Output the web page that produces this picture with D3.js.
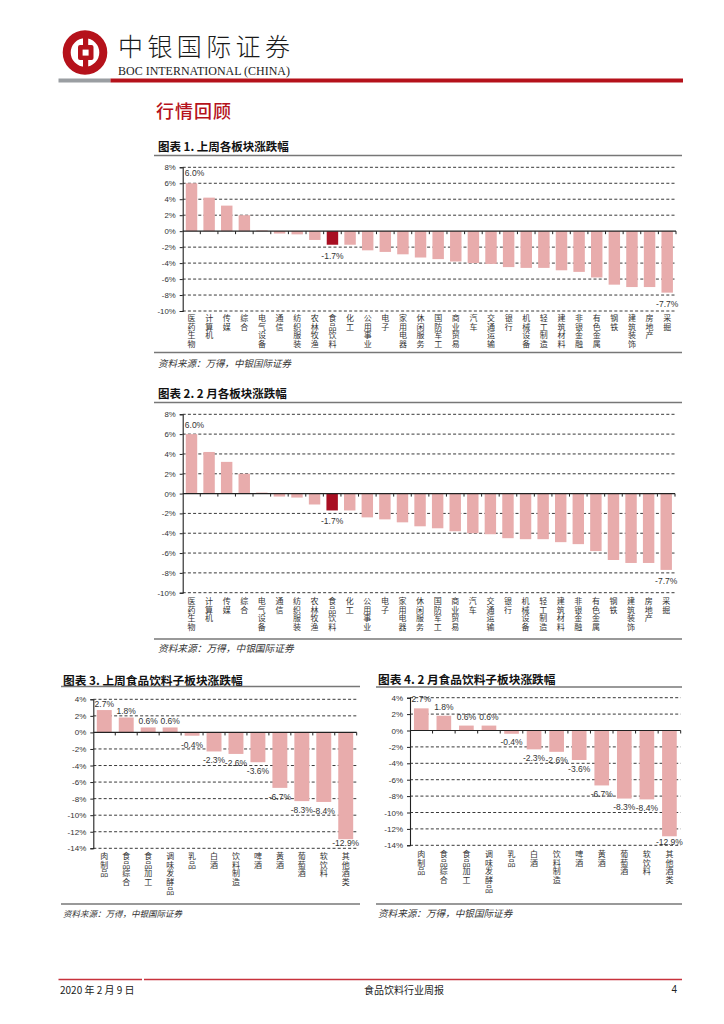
<!DOCTYPE html>
<html><head><meta charset="utf-8">
<script src="https://cdn.jsdelivr.net/npm/d3@7/dist/d3.min.js"></script>
<style>body{margin:0;background:#fff} svg{display:block}</style>
</head><body>
<svg id="page" width="724" height="1024"></svg>
<script>
// ---------- DATA ----------
const sectorCategories = ["医药生物","计算机","传媒","综合","电气设备","通信","纺织服装","农林牧渔","食品饮料","化工","公用事业","电子","家用电器","休闲服务","国防军工","商业贸易","汽车","交通运输","银行","机械设备","轻工制造","建筑材料","非银金融","有色金属","钢铁","建筑装饰","房地产","采掘"];
const weekSectorValues = [6.0,4.2,3.2,2.0,0.1,-0.3,-0.4,-1.1,-1.7,-1.7,-2.4,-2.6,-2.9,-3.3,-3.5,-3.8,-4.0,-4.1,-4.5,-4.6,-4.6,-4.9,-5.1,-5.8,-6.7,-7.0,-7.0,-7.7];
const febSectorValues  = [6.0,4.2,3.2,2.0,0.1,-0.3,-0.4,-1.1,-1.7,-1.7,-2.4,-2.6,-2.9,-3.3,-3.5,-3.8,-4.0,-4.1,-4.5,-4.6,-4.6,-4.9,-5.1,-5.8,-6.7,-7.0,-7.0,-7.7];
const sectorTicks = [8,6,4,2,0,-2,-4,-6,-8,-10];
const sectorLabelled = ["医药生物","食品饮料","采掘"];
const sectorHighlight = "食品饮料";

const foodCategories = ["肉制品","食品综合","食品加工","调味发酵品","乳品","白酒","饮料制造","啤酒","黄酒","葡萄酒","软饮料","其他酒类"];
const weekFoodValues = [2.7,1.8,0.6,0.6,-0.4,-2.3,-2.6,-3.6,-6.7,-8.3,-8.4,-12.9];
const febFoodValues  = [2.7,1.8,0.6,0.6,-0.4,-2.3,-2.6,-3.6,-6.7,-8.3,-8.4,-12.9];
const foodTicks = [4,2,0,-2,-4,-6,-8,-10,-12,-14];

const chartTitles = ["图表 1. 上周各板块涨跌幅","图表 2. 2 月各板块涨跌幅","图表 3. 上周食品饮料子板块涨跌幅","图表 4. 2 月食品饮料子板块涨跌幅"];
const sourceText = "资料来源：万得，中银国际证券";

// ---------- STYLE ----------
const RED = "#B5121B", PINK = "#E8ACAC", DARK = "#A80F22";
const CJK = "'Noto Sans CJK SC', sans-serif";
const NUM = "'Liberation Sans', Arial, sans-serif";
const NARROW = "'Liberation Sans Narrow', 'Arial Narrow', 'Liberation Sans', sans-serif";
const svg = d3.select("#page");

// ---------- HEADER ----------
const logo = svg.append("g");
logo.append("circle").attr("cx",85).attr("cy",52.5).attr("r",18.3).attr("fill","none").attr("stroke",RED).attr("stroke-width",8);
logo.append("rect").attr("x",83).attr("y",31).attr("width",5.2).attr("height",43).attr("fill",RED);
logo.append("rect").attr("x",78).attr("y",45).attr("width",15.5).attr("height",15).attr("rx",2).attr("fill",RED);
logo.append("rect").attr("x",82.6).attr("y",49.6).attr("width",6).attr("height",6).attr("fill","#fff");
svg.append("text").attr("x",118).attr("y",45).attr("dominant-baseline","central")
  .attr("font-family",CJK).attr("font-weight",300).attr("font-size",25).attr("fill","#1a1a1a")
  .attr("textLength",172).attr("lengthAdjust","spacing").text("中银国际证券");
svg.append("text").attr("x",118).attr("y",75).attr("font-family","'Liberation Serif', serif")
  .attr("font-size",11.5).attr("fill","#222").attr("textLength",172).attr("lengthAdjust","spacingAndGlyphs")
  .text("BOC INTERNATIONAL (CHINA)");
svg.append("rect").attr("x",58.5).attr("y",78.5).attr("width",52).attr("height",4).attr("fill","#9a9ea2");
svg.append("rect").attr("x",110.5).attr("y",78.5).attr("width",572.5).attr("height",4).attr("fill",RED);
svg.append("text").attr("x",156).attr("y",110).attr("dominant-baseline","central")
  .attr("font-family",CJK).attr("font-size",18).attr("font-weight",500).attr("fill",RED)
  .attr("letter-spacing",1).text("行情回顾");

// ---------- CHART FUNCTION ----------
function barChart(o){
  const g = svg.append("g");
  g.append("text").attr("x",o.tx).attr("y",o.ty).attr("dominant-baseline","central")
    .attr("font-family",CJK).attr("font-weight",700).attr("font-size",o.titleFs).attr("fill","#111").text(o.title);
  g.append("line").attr("x1",o.fx0).attr("x2",o.fx1).attr("y1",o.lineTop).attr("y2",o.lineTop).attr("stroke","#777").attr("stroke-width",1.3);
  g.append("line").attr("x1",o.fx0).attr("x2",o.fx1).attr("y1",o.lineBot).attr("y2",o.lineBot).attr("stroke","#777").attr("stroke-width",1.3);
  g.append("text").attr("x",o.tx).attr("y",o.srcY).attr("dominant-baseline","central")
    .attr("font-family",CJK).attr("font-style","italic").attr("font-size",o.srcFs).attr("fill","#333").text(sourceText);

  const x = d3.scaleBand().domain(o.cats).range([o.x0,o.x1]).paddingInner(o.pad).paddingOuter(o.pad/2);
  const y = d3.scaleLinear().domain([d3.min(o.ticks), d3.max(o.ticks)]).range([o.yBot,o.yTop]);

  g.selectAll("line.grid").data(o.ticks.filter(t=>t!==0)).join("line").attr("class","grid")
    .attr("x1",o.x0).attr("x2",o.x1).attr("y1",d=>y(d)).attr("y2",d=>y(d))
    .attr("stroke","#222").attr("stroke-width",0.9).attr("stroke-dasharray","3,2.2");

  g.selectAll("rect.bar").data(o.vals).join("rect").attr("class","bar")
    .attr("x",(d,i)=>x(o.cats[i])).attr("width",x.bandwidth())
    .attr("y",d=>y(Math.max(0,d))).attr("height",d=>Math.abs(y(d)-y(0)))
    .attr("fill",(d,i)=>o.cats[i]===o.hi?DARK:PINK);

  const ya = g.append("g").attr("transform",`translate(${o.x0},0)`)
    .call(d3.axisLeft(y).tickValues(o.ticks).tickFormat(d=>d+"%").tickSize(3).tickPadding(4));
  ya.select(".domain").attr("stroke","#222").attr("stroke-width",1.1);
  ya.selectAll(".tick line").attr("stroke","#222");
  ya.selectAll(".tick text").attr("font-family",NUM).attr("font-size",o.tickFs).attr("fill","#333");

  g.append("line").attr("x1",o.x0).attr("x2",o.x1).attr("y1",y(0)).attr("y2",y(0)).attr("stroke","#222").attr("stroke-width",1.1);
  g.selectAll("line.zt").data(d3.range(1,o.cats.length+1)).join("line").attr("class","zt")
    .attr("x1",i=>o.x0+i*x.step()).attr("x2",i=>o.x0+i*x.step())
    .attr("y1",y(0)).attr("y2",y(0)+3).attr("stroke","#222");

  const lab = o.vals.map((v,i)=>({v,c:o.cats[i]})).filter(d=>!o.labelled || o.labelled.includes(d.c));
  g.selectAll("text.val").data(lab).join("text").attr("class","val")
    .attr("x",d=>x(d.c)+x.bandwidth()/2 + (d.v>=0 ? o.dxUp : 0))
    .attr("y",d=>d.v>=0 ? y(d.v)-o.offUp : Math.min(y(d.v)+o.offDn, o.yBot-o.clamp))
    .attr("text-anchor","middle").attr("dominant-baseline","central")
    .attr("font-family",NARROW).attr("font-size",o.valFs).attr("fill","#333")
    .text(d=>d.v.toFixed(1)+"%");

  // vertical category labels: one character per line
  const cl = g.selectAll("text.cat").data(o.cats).join("text").attr("class","cat")
    .attr("font-family",CJK).attr("font-size",o.catFs).attr("fill","#333").attr("text-anchor","middle");
  cl.each(function(c){
    const t = d3.select(this);
    const cx = x(c)+x.bandwidth()/2;
    [...c].forEach((ch,k)=>{
      t.append("tspan").attr("x",cx).attr("y",o.catY + k*o.catStep).attr("dominant-baseline","hanging").text(ch);
    });
  });
}

barChart({title:chartTitles[0], titleFs:11.5, tx:158, ty:146, fx0:154, fx1:682, lineTop:155.5, lineBot:352.5, srcY:363, srcFs:9.5,
  cats:sectorCategories, vals:weekSectorValues, ticks:sectorTicks, hi:sectorHighlight, labelled:sectorLabelled,
  x0:182.7, x1:676, yTop:167.3, yBot:311, pad:0.35, tickFs:7.8, valFs:8.5, offUp:10, dxUp:3, offDn:11, clamp:4, catFs:8, catY:314, catStep:8.6});

barChart({title:chartTitles[1], titleFs:11.5, tx:158, ty:393, fx0:154, fx1:682, lineTop:402.5, lineBot:639, srcY:648, srcFs:9.7,
  cats:sectorCategories, vals:febSectorValues, ticks:sectorTicks, hi:sectorHighlight, labelled:sectorLabelled,
  x0:182.7, x1:675, yTop:414.3, yBot:592.7, pad:0.35, tickFs:7.8, valFs:8.5, offUp:9.5, dxUp:3, offDn:11, clamp:4, catFs:8, catY:597, catStep:8.6});

barChart({title:chartTitles[2], titleFs:11.7, tx:63, ty:679, fx0:61, fx1:360, lineTop:686.5, lineBot:904, srcY:913, srcFs:8.5,
  cats:foodCategories, vals:weekFoodValues, ticks:foodTicks, hi:null, labelled:null,
  x0:93.3, x1:356.7, yTop:699.3, yBot:848.3, pad:0.32, tickFs:8, valFs:8.5, offUp:6.5, dxUp:0, offDn:9, clamp:5.5, catFs:8, catY:852, catStep:8.6});

barChart({title:chartTitles[3], titleFs:11.7, tx:378, ty:678, fx0:376, fx1:682, lineTop:687, lineBot:904, srcY:913, srcFs:9.6,
  cats:foodCategories, vals:febFoodValues, ticks:foodTicks, hi:null, labelled:null,
  x0:410, x1:680.7, yTop:697.7, yBot:845.3, pad:0.35, tickFs:8, valFs:8.5, offUp:9, dxUp:0, offDn:8.5, clamp:3, catFs:8, catY:850, catStep:8.6});

// ---------- FOOTER ----------
svg.append("line").attr("x1",58.5).attr("x2",142).attr("y1",979.5).attr("y2",979.5).attr("stroke","#C8323C").attr("stroke-width",1.5);
svg.append("line").attr("x1",144).attr("x2",682).attr("y1",979.5).attr("y2",979.5).attr("stroke","#C8323C").attr("stroke-width",1.5);
svg.append("text").attr("x",60).attr("y",989.5).attr("dominant-baseline","central").attr("font-family",CJK).attr("font-size",10).attr("fill","#222").text("2020 年 2 月 9 日");
svg.append("text").attr("x",404).attr("y",989.5).attr("text-anchor","middle").attr("dominant-baseline","central").attr("font-family",CJK).attr("font-size",10).attr("fill","#222").text("食品饮料行业周报");
svg.append("text").attr("x",677).attr("y",989.5).attr("text-anchor","end").attr("dominant-baseline","central").attr("font-family",NUM).attr("font-size",10).attr("fill","#222").text("4");
</script>
</body></html>
